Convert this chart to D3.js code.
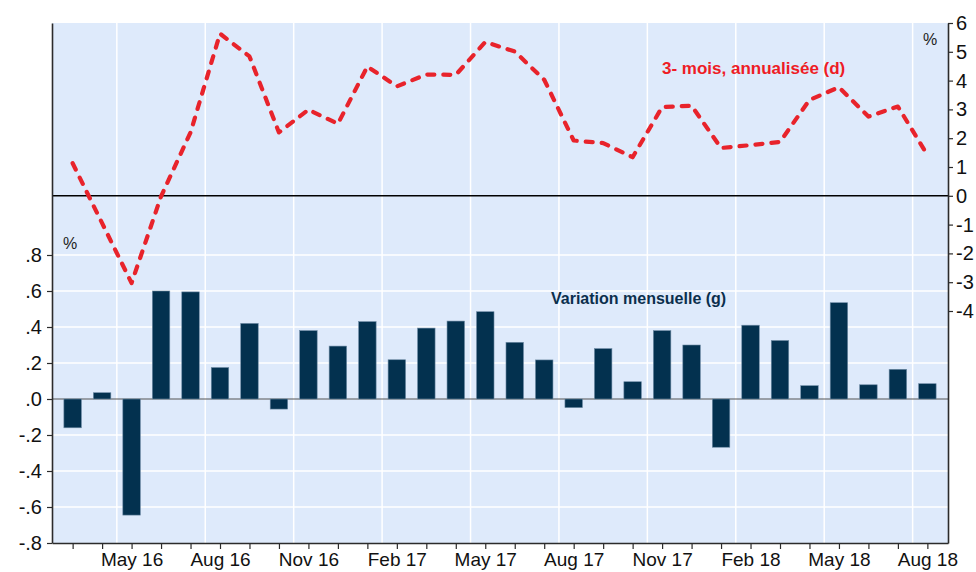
<!DOCTYPE html>
<html>
<head>
<meta charset="utf-8">
<script src="https://cdn.jsdelivr.net/npm/d3@7"></script>
<style>
  body { margin: 0; background: #fff; }
  svg text { font-family: "Liberation Sans", Arial, sans-serif; }
</style>
</head>
<body>
<div id="chart"></div>
<script>

// months from Mar 16 to Aug 18
var months = ["Mar 16","Apr 16","May 16","Jun 16","Jul 16","Aug 16","Sep 16","Oct 16","Nov 16","Dec 16",
              "Jan 17","Feb 17","Mar 17","Apr 17","May 17","Jun 17","Jul 17","Aug 17","Sep 17","Oct 17",
              "Nov 17","Dec 17","Jan 18","Feb 18","Mar 18","Apr 18","May 18","Jun 18","Jul 18","Aug 18"];

// variation mensuelle (left axis)
var monthly = [-0.16, 0.035, -0.645, 0.60, 0.595, 0.175, 0.42, -0.056, 0.38, 0.294,
               0.43, 0.218, 0.394, 0.433, 0.485, 0.315, 0.217, -0.048, 0.28, 0.096,
               0.38, 0.30, -0.268, 0.41, 0.325, 0.074, 0.535, 0.079, 0.165, 0.085];

// 3 mois annualisee (right axis)
var annualised = [1.13, -0.95, -3.03, -0.02, 2.2, 5.63, 4.84, 2.2, 2.99, 2.5,
                  4.49, 3.8, 4.21, 4.2, 5.34, 5.01, 4.03, 1.92, 1.83, 1.34,
                  3.08, 3.13, 1.66, 1.76, 1.87, 3.33, 3.77, 2.75, 3.1, 1.42];

var labeledMonths = ["May 16","Aug 16","Nov 16","Feb 17","May 17","Aug 17","Nov 17","Feb 18","May 18","Aug 18"];

var leftTicks = [-0.8, -0.6, -0.4, -0.2, 0, 0.2, 0.4, 0.6, 0.8];
var leftTickLabels = ["-.8","-.6","-.4","-.2",".0",".2",".4",".6",".8"];
var rightTicks = [-4, -3, -2, -1, 0, 1, 2, 3, 4, 5, 6];
var rightTickLabels = ["-4","-3","-2","-1","0","1","2","3","4","5","6"];

var W = 976, H = 572;
var plotLeft = 52, plotRight = 948, plotTop = 23, plotBottom = 543;

var cs = {
    bg: "#deeafb",
    bar: "#03314f",
    barEdge: "#6f8ca6",
    line: "#e8232b",
    axis: "#2b2b2b",
    grid: "#ffffff"
};

var svg = d3.select("#chart").append("svg")
    .attr("width", W)
    .attr("height", H);

var x = d3.scaleLinear().domain([-0.7, 29.7]).range([plotLeft, plotRight]);
var yL = d3.scaleLinear().domain([-0.8, 0.8 + (255 - plotTop) / 180]).range([plotBottom, plotTop]);
var yR = d3.scaleLinear().domain([-4 - (plotBottom - 311) / 28.8, 6]).range([plotBottom, plotTop]);

// background
svg.append("rect")
    .attr("x", plotLeft).attr("y", plotTop)
    .attr("width", plotRight - plotLeft).attr("height", plotBottom - plotTop)
    .style("fill", cs.bg);

// grid
svg.append("g").selectAll("line")
    .data(leftTicks.filter(function(d){ return d != 0 && d != -0.8; }))
    .enter().append("line")
    .attr("x1", plotLeft).attr("x2", plotRight)
    .attr("y1", function(d){ return yL(d); })
    .attr("y2", function(d){ return yL(d); })
    .style("stroke", cs.grid).style("stroke-width", 1.5);

svg.append("g").selectAll("line")
    .data(labeledMonths)
    .enter().append("line")
    .attr("x1", function(d){ return x(months.indexOf(d) - 0.5); })
    .attr("x2", function(d){ return x(months.indexOf(d) - 0.5); })
    .attr("y1", plotTop).attr("y2", plotBottom)
    .style("stroke", cs.grid).style("stroke-width", 1.5);

// zero line of the left axis
svg.append("line")
    .attr("x1", plotLeft).attr("x2", plotRight)
    .attr("y1", yL(0)).attr("y2", yL(0))
    .style("stroke", "#555").style("stroke-width", 1.2);

// bars
var bw = 17.5;
svg.append("g").selectAll("rect")
    .data(monthly)
    .enter().append("rect")
    .attr("x", function(d, i){ return x(i) - bw / 2; })
    .attr("y", function(d){ return yL(Math.max(0, d)); })
    .attr("width", bw)
    .attr("height", function(d){ return Math.abs(yL(d) - yL(0)); })
    .style("fill", cs.bar)
    .style("stroke", cs.barEdge)
    .style("stroke-width", 0.6);

// zero line of the right axis
svg.append("line")
    .attr("x1", plotLeft).attr("x2", plotRight)
    .attr("y1", yR(0)).attr("y2", yR(0))
    .style("stroke", "#000").style("stroke-width", 1.4);

// line
var line = d3.line()
    .x(function(d, i){ return x(i); })
    .y(function(d){ return yR(d); });

svg.append("path")
    .datum(annualised)
    .attr("d", line)
    .style("fill", "none")
    .style("stroke", cs.line)
    .style("stroke-width", 4.2)
    .style("stroke-linecap", "round")
    .style("stroke-linejoin", "round")
    .style("stroke-dasharray", "7,9");

// axes
var axisL = d3.axisLeft(yL)
    .tickValues(leftTicks)
    .tickSize(5)
    .tickSizeOuter(0)
    .tickPadding(5)
    .tickFormat(function(d, i){ return leftTickLabels[i]; });

var axisR = d3.axisRight(yR)
    .tickValues(rightTicks)
    .tickSize(5)
    .tickSizeOuter(0)
    .tickPadding(3)
    .tickFormat(function(d, i){ return rightTickLabels[i]; });

var axisB = d3.axisBottom(x)
    .tickValues(d3.range(months.length))
    .tickSize(6)
    .tickSizeOuter(0)
    .tickPadding(4)
    .tickFormat(function(i){
        return labeledMonths.indexOf(months[i]) >= 0 ? months[i] : "";
    });

function styleAxis(g){
    g.select(".domain").style("stroke", cs.axis).style("stroke-width", 1.6);
    g.selectAll(".tick line").style("stroke", cs.axis).style("stroke-width", 1.2);
    g.selectAll(".tick text")
        .style("font-family", '"Liberation Sans", Arial, sans-serif')
        .style("font-size", "20px")
        .style("fill", "#111");
}

svg.append("g").attr("transform", "translate(" + plotLeft + ",0)").call(axisL).call(styleAxis);
svg.append("g").attr("transform", "translate(" + plotRight + ",0)").call(axisR).call(styleAxis);
svg.append("g").attr("transform", "translate(0," + plotBottom + ")").call(axisB).call(styleAxis)
    .selectAll(".tick text")
    .style("font-size", "19px")
    .attr("dy", "0.7em");

// labels
svg.append("text")
    .attr("x", 662).attr("y", 74)
    .style("font-size", "17px").style("font-weight", "bold")
    .style("fill", "#ee1c25")
    .text("3- mois, annualisée (d)");

svg.append("text")
    .attr("x", 551).attr("y", 304)
    .style("font-size", "16px").style("font-weight", "bold")
    .style("fill", "#0b2f4d")
    .text("Variation mensuelle (g)");

svg.append("text")
    .attr("x", 923).attr("y", 45)
    .style("font-size", "16px").style("fill", "#222")
    .text("%");

svg.append("text")
    .attr("x", 63).attr("y", 249)
    .style("font-size", "16px").style("fill", "#222")
    .text("%");

</script>
</body>
</html>
